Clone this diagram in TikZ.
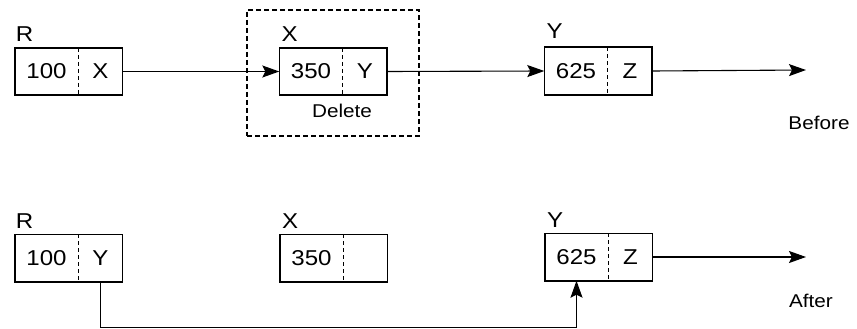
\documentclass[tikz,border=0pt]{standalone}
\usepackage{fontspec}
\setmainfont{Liberation Sans}[FakeStretch=1.12]
\usetikzlibrary{arrows.meta}
\begin{document}
\begin{tikzpicture}[x=1pt,y=-1pt,
  cell/.style={inner sep=0pt, minimum height=47pt, font=\fontsize{21.5}{23}\selectfont},
  lcell/.style={cell, minimum width=63pt},
  rcell/.style={cell, minimum width=44pt, anchor=west},
  frame/.style={line width=1.6pt},
  divider/.style={dashed, dash pattern=on 4pt off 3pt, line width=1.3pt},
  lbl/.style={font=\fontsize{21.5}{23}\selectfont, inner sep=0pt, anchor=south west},
  txt/.style={font=\fontsize{18.5}{20}\selectfont, inner sep=0pt},
  link/.style={line width=1.1pt, -{Stealth[length=17pt,width=12pt,inset=3pt]}},
  delbox/.style={dashed, dash pattern=on 5pt off 3pt, line width=1.7pt}
]
\useasboundingbox (0,0) rectangle (857,329);
% ---- Before ----
\node[lcell] (r1a) at (46.5,71.5) {100};
\node[rcell] (r1b) at (r1a.east) {X};
\node[lcell] (x1a) at (311,71.5) {350};
\node[rcell] (x1b) at (x1a.east) {Y};
\node[lcell] (y1a) at (576,71) {625};
\node[rcell] (y1b) at (y1a.east) {Z};
\foreach \a/\b in {r1a/r1b,x1a/x1b,y1a/y1b}{
  \draw[frame] (\a.north west) rectangle (\b.south east);
  \draw[divider] (\a.north east) -- (\a.south east);
}
\node[lbl] (lr1) at ([xshift=1pt,yshift=6pt]r1a.north west) {R};
\node[lbl] (lx1) at ([xshift=2pt,yshift=6pt]x1a.north west) {X};
\node[lbl] (ly1) at ([xshift=2pt,yshift=9pt]y1a.north west) {Y};
\node[txt] (del) at (342,111) {Delete};
\node[delbox, draw, minimum width=172pt, minimum height=126pt, inner sep=0pt] (dbox) at (333,73) {};
\coordinate (e1) at (806,70);
\draw[link] (r1b.east) -- (x1a.west);
\draw[link] (x1b.east) -- (y1a.west);
\draw[link] (y1b.east) -- (e1);
\node[txt] (before) at (819,123) {Before};
% ---- After ----
\node[lcell] (r2a) at (46.5,258) {100};
\node[rcell] (r2b) at (r2a.east) {Y};
\node[lcell] (x2a) at (311.5,258) {350};
\node[rcell] (x2b) at (x2a.east) {};
\node[lcell] (y2a) at (576.5,257) {625};
\node[rcell] (y2b) at (y2a.east) {Z};
\foreach \a/\b in {r2a/r2b,x2a/x2b,y2a/y2b}{
  \draw[frame] (\a.north west) rectangle (\b.south east);
  \draw[divider] (\a.north east) -- (\a.south east);
}
\node[lbl] (lr2) at ([xshift=1pt,yshift=6pt]r2a.north west) {R};
\node[lbl] (lx2) at ([xshift=2pt,yshift=6pt]x2a.north west) {X};
\node[lbl] (ly2) at ([xshift=2pt,yshift=6pt]y2a.north west) {Y};
\coordinate (e2) at (806,257);
\coordinate (low) at (0,327.5);
\draw[link] (y2b.east) -- (e2);
\draw[link] (r2b.south) -- (r2b.south |- low) -| (y2a.south);
\node[txt] (after) at (811,301) {After};
\end{tikzpicture}
\end{document}
